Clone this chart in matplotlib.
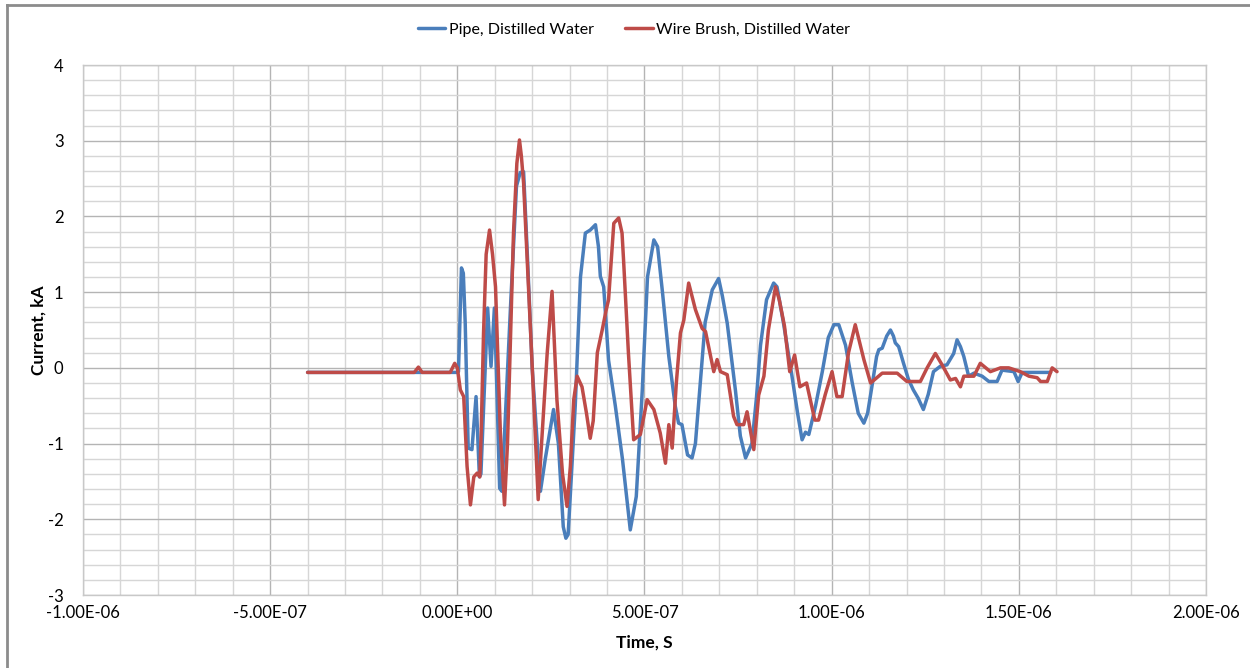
import matplotlib
matplotlib.use("Agg")
import matplotlib.pyplot as plt
from matplotlib.ticker import MultipleLocator, FuncFormatter
from matplotlib.lines import Line2D

plt.rcParams['font.family'] = ['Lato', 'DejaVu Sans']

# Time in nanoseconds, current in kA
pipe_t = [-400, 0, 3, 11, 16, 21, 29, 39, 50, 59, 63, 81, 90, 99, 104, 113, 119, 142, 158, 168,
          177, 187, 200, 222, 235, 257, 270, 283, 290, 296, 315, 329, 342, 355, 369, 377, 382,
          391, 404, 422, 441, 462, 478, 494, 508, 525, 535, 548, 565, 582, 591, 600, 615, 627,
          636, 649, 662, 681, 698, 708, 721, 743, 756, 770, 787, 799, 810, 826, 845, 854, 871,
          894, 909, 921, 930, 939, 957, 975, 991, 1006, 1019, 1037, 1055, 1071, 1086, 1096,
          1109, 1120, 1126, 1135, 1147, 1157, 1165, 1170, 1179, 1192, 1205, 1218, 1231, 1245,
          1258, 1272, 1290, 1308, 1326, 1335, 1344, 1353, 1366, 1380, 1402, 1420, 1442, 1455,
          1487, 1498, 1509, 1585]
pipe_i = [-0.06, -0.06, -0.05, 1.32, 1.25, 0.60, -1.06, -1.08, -0.38, -1.44, -1.40, 0.79, 0.02,
          0.79, 0.00, -1.59, -1.63, 0.80, 2.40, 2.58, 2.59, 1.50, 0.00, -1.63, -1.20, -0.55,
          -1.00, -2.10, -2.25, -2.20, -0.50, 1.20, 1.78, 1.82, 1.89, 1.60, 1.21, 1.07, 0.10,
          -0.50, -1.20, -2.14, -1.70, -0.30, 1.20, 1.69, 1.60, 1.00, 0.15, -0.50, -0.73, -0.75,
          -1.15, -1.19, -1.00, -0.20, 0.60, 1.03, 1.18, 0.95, 0.59, -0.30, -0.90, -1.19, -1.00,
          -0.40, 0.30, 0.90, 1.12, 1.07, 0.60, -0.11, -0.60, -0.95, -0.85, -0.88, -0.50, -0.05,
          0.40, 0.57, 0.57, 0.30, -0.20, -0.60, -0.73, -0.60, -0.20, 0.15, 0.24, 0.26, 0.42,
          0.50, 0.42, 0.33, 0.28, 0.06, -0.15, -0.29, -0.40, -0.55, -0.35, -0.05, 0.02, 0.04,
          0.19, 0.37, 0.28, 0.15, -0.11, -0.07, -0.11, -0.18, -0.18, -0.03, -0.05, -0.18, -0.06,
          -0.06]

brush_t = [-400, -115, -104, -94, -19, -7, 0, 8, 17, 26, 35, 44, 53, 60, 64, 70, 77, 86, 94, 102,
           115, 126, 134, 150, 159, 166, 171, 177, 200, 216, 225, 240, 253, 266, 281, 293, 302,
           311, 320, 333, 345, 355, 363, 374, 387, 397, 404, 418, 431, 440, 444, 457, 471, 489,
           507, 525, 542, 556, 565, 574, 585, 596, 605, 618, 636, 654, 663, 685, 694, 703, 721,
           738, 747, 765, 774, 792, 805, 819, 831, 850, 860, 874, 888, 901, 915, 933, 955, 965,
           983, 1001, 1014, 1028, 1045, 1063, 1086, 1104, 1135, 1175, 1201, 1237, 1255, 1277,
           1295, 1317, 1331, 1344, 1353, 1380, 1397, 1424, 1451, 1473, 1504, 1527, 1549, 1558,
           1576, 1589, 1602]
brush_i = [-0.06, -0.06, 0.01, -0.06, -0.06, 0.06, 0.00, -0.29, -0.38, -1.30, -1.81, -1.44, -1.39,
           -1.44, -0.80, 0.46, 1.50, 1.82, 1.50, 1.07, -0.86, -1.81, -1.00, 1.78, 2.70, 3.01,
           2.80, 2.44, 0.02, -1.74, -1.00, 0.19, 1.01, -0.42, -1.40, -1.83, -1.30, -0.42, -0.11,
           -0.25, -0.60, -0.93, -0.70, 0.20, 0.50, 0.75, 0.90, 1.91, 1.98, 1.78, 1.43, 0.20,
           -0.95, -0.88, -0.42, -0.55, -0.86, -1.26, -0.75, -1.06, -0.20, 0.46, 0.63, 1.12, 0.77,
           0.52, 0.48, -0.05, 0.11, -0.05, -0.09, -0.64, -0.75, -0.75, -0.58, -1.08, -0.36, -0.11,
           0.50, 1.07, 0.90, 0.55, -0.05, 0.17, -0.25, -0.20, -0.69, -0.69, -0.35, -0.05, -0.38,
           -0.38, 0.20, 0.57, 0.11, -0.20, -0.07, -0.07, -0.18, -0.18, 0.00, 0.19, 0.04, -0.16,
           -0.14, -0.25, -0.11, -0.11, 0.06, -0.05, 0.00, 0.00, -0.05, -0.11, -0.13, -0.18, -0.18,
           0.00, -0.05]

series_names = ["Pipe, Distilled Water", "Wire Brush, Distilled Water"]
x_label = "Time, S"
y_label = "Current, kA"

fig = plt.figure(figsize=(12.5, 6.68), dpi=100)
ax = fig.add_axes([83/1250, 1 - 595/668, (1206-83)/1250, (595-65)/668])

ax.plot([t*1e-9 for t in pipe_t], pipe_i, color='#4A7EBB', lw=2.5, label=series_names[0],
        solid_joinstyle='round', solid_capstyle='round', zorder=3)
ax.plot([t*1e-9 for t in brush_t], brush_i, color='#BE4B48', lw=2.5, label=series_names[1],
        solid_joinstyle='round', solid_capstyle='round', zorder=4)

ax.set_xlim(-1e-6, 2e-6)
ax.set_ylim(-3, 4)
ax.xaxis.set_major_locator(MultipleLocator(5e-7))
ax.xaxis.set_minor_locator(MultipleLocator(1e-7))
ax.yaxis.set_major_locator(MultipleLocator(1))
ax.yaxis.set_minor_locator(MultipleLocator(0.2))
ax.xaxis.set_major_formatter(FuncFormatter(lambda v, p: "{:.2E}".format(0.0 if abs(v) < 1e-12 else v)))
ax.yaxis.set_major_formatter(FuncFormatter(lambda v, p: "{:d}".format(int(round(v)))))
ax.grid(which='major', color='#B4B4B4', lw=1.0)
ax.grid(which='minor', color='#D6D6D6', lw=1.0)
ax.set_axisbelow(True)
ax.tick_params(which='both', length=0, labelsize=12, colors='#000000')
ax.tick_params(axis='x', pad=7)
ax.tick_params(axis='y', pad=14)
for s in ax.spines.values():
    s.set_color('#C8C8C8')
    s.set_linewidth(1.0)

ax.set_xlabel(x_label, fontsize=12.5, fontweight='bold')
ax.set_ylabel(y_label, fontsize=12.5, fontweight='bold')
ax.xaxis.set_label_coords(0.5, -(635 - 595) / 530)
ax.yaxis.set_label_coords(-(83 - 47) / 1123, 0.5)

fig.legend(loc='center', bbox_to_anchor=(634/1250, 1 - 30/668), ncol=2, frameon=False,
           fontsize=11.5, handlelength=1.7, columnspacing=2.0, handletextpad=0.2)

# chart-area border (left and top edges visible in the reference)
fig.add_artist(Line2D([7/1250, 7/1250], [0, 1 - 5/668], transform=fig.transFigure,
                      color='#8C8C8C', lw=2))
fig.add_artist(Line2D([7/1250, 1], [1 - 5/668, 1 - 5/668], transform=fig.transFigure,
                      color='#8C8C8C', lw=2))

fig.savefig("out.png", dpi=100, facecolor='white')
